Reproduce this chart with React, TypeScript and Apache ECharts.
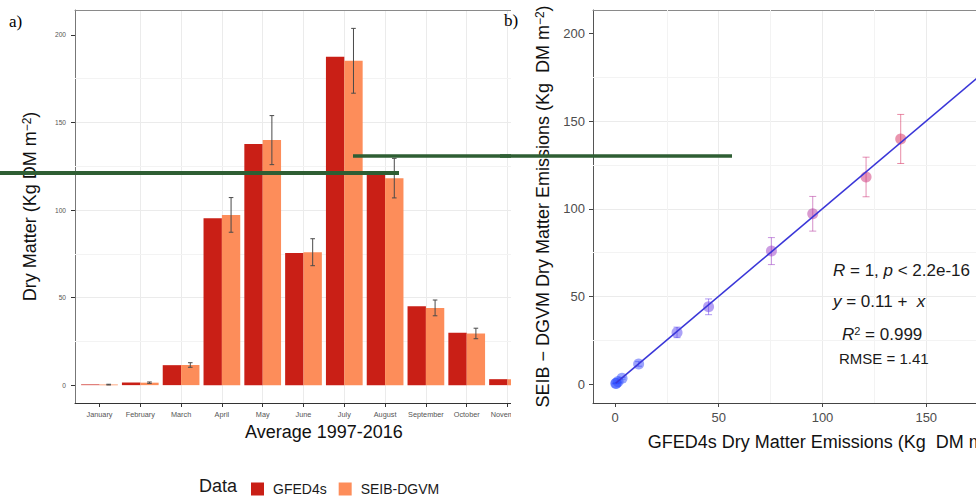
import React, { useEffect, useRef } from 'react';
import * as echarts from 'echarts';

// ---------- data ----------
const months = ['January', 'February', 'March', 'April', 'May', 'June', 'July', 'August', 'September', 'October', 'November', 'December'];
const monthIdx = [1, 2, 3, 4, 5, 6, 7, 8, 9, 10, 11, 12];
const gfed = [0.4, 1.5, 11.4, 95.3, 137.7, 75.4, 187.5, 121.0, 45.1, 29.9, 3.4, 0.6];
const seib = [0.3, 1.4, 11.5, 97.2, 139.9, 75.9, 185.2, 118.2, 44.1, 29.5, 3.3, 0.5];
const seibErr = [0.2, 0.4, 1.3, 9.9, 14.0, 7.7, 18.5, 11.3, 4.5, 3.0, 0.5, 0.2];
const yTicks = [0, 50, 100, 150, 200];
const minorTicks = [25, 75, 125, 175];
const xTicksB = [0, 50, 100, 150, 200];
const fitIntercept = 0.11;
const fitSlope = 1;

const FONT = '"Liberation Sans", Arial, Helvetica, sans-serif';
const SERIF = '"Liberation Serif", "Times New Roman", serif';
const RED = '#c91f16';
const ORANGE = '#fd8d5a';
const GREEN = '#2e5e33';
const MAJOR = '#ebebeb';
const MINOR = '#f3f3f3';

function optionA(): any {
  const errRender = (params: any, api: any) => {
    const x = api.value(0);
    const lo = api.value(1);
    const hi = api.value(2);
    const off = api.size([1, 0])[0] * 0.225;
    const pLo = api.coord([x, lo]);
    const pHi = api.coord([x, hi]);
    const cx = pLo[0] + off;
    const c = 2.3;
    const st = { stroke: '#4a4a4a', lineWidth: 1 };
    return {
      type: 'group',
      children: [
        { type: 'line', shape: { x1: cx, y1: pLo[1], x2: cx, y2: pHi[1] }, style: st },
        { type: 'line', shape: { x1: cx - c, y1: pLo[1], x2: cx + c, y2: pLo[1] }, style: st },
        { type: 'line', shape: { x1: cx - c, y1: pHi[1], x2: cx + c, y2: pHi[1] }, style: st },
      ],
    };
  };
  return {
    animation: false,
    textStyle: { fontFamily: FONT },
    grid: { left: 75, top: 10, right: 27.2, bottom: 96, show: false, outerBoundsMode: 'none' },
    legend: {
      left: 246,
      top: 477,
      itemWidth: 13,
      itemHeight: 13,
      itemGap: 12,
      icon: 'rect',
      selectedMode: false,
      data: ['GFED4s', 'SEIB-DGVM'],
      textStyle: { fontSize: 14, color: '#1a1a1a', fontFamily: FONT, padding: [0, 0, 0, 4] },
    },
    xAxis: [
      {
        type: 'value',
        position: 'bottom',
        min: 0.4,
        max: 12.6,
        minInterval: 1,
        maxInterval: 1,
        name: 'Average 1997-2016',
        nameLocation: 'middle',
        nameGap: 18,
        nameTextStyle: { fontSize: 18, color: '#111', fontFamily: FONT },
        axisLine: { show: true, onZero: false, lineStyle: { color: '#333', width: 1 } },
        axisTick: { show: true, length: 4, customValues: monthIdx, lineStyle: { color: '#333' } },
        axisLabel: {
          customValues: monthIdx,
          formatter: (v: number) => (Number.isInteger(v) && months[v - 1] ? months[v - 1] : ''),
          fontSize: 7.3,
          color: '#555',
          margin: 8,
          fontFamily: FONT,
        },
        splitLine: { show: true, showMinLine: false, lineStyle: { color: MAJOR, width: 1 } },
      },
      {
        type: 'value',
        position: 'top',
        min: 0.4,
        max: 12.6,
        axisLine: { show: true, onZero: false, lineStyle: { color: '#8a8a8a', width: 1 } },
        axisTick: { show: false },
        axisLabel: { show: false },
        splitLine: { show: false },
      },
    ],
    yAxis: {
      type: 'value',
      min: -10.2,
      max: 214.2,
      name: 'Dry Matter (Kg DM m{s|−2})',
      nameLocation: 'middle',
      nameRotate: 90,
      nameGap: 36,
      nameTextStyle: {
        fontSize: 18,
        color: '#111',
        fontFamily: FONT,
        rich: { s: { fontSize: 12, verticalAlign: 'top', fontFamily: FONT, color: '#111' } },
      },
      axisLine: { show: true, onZero: false, lineStyle: { color: '#777', width: 1 } },
      axisTick: { show: true, length: 4, customValues: yTicks, lineStyle: { color: '#333' } },
      axisLabel: {
        customValues: yTicks,
        formatter: (v: number) => (v % 50 === 0 ? String(v) : ''),
        fontSize: 6.6,
        color: '#555',
        margin: 9,
        fontFamily: FONT,
      },
      splitLine: { show: true, showMinLine: false, showMaxLine: false, lineStyle: { color: MAJOR, width: 1 } },
    },
    series: [
      {
        type: 'bar',
        name: 'GFED4s',
        data: gfed.map((v, i) => [monthIdx[i], v]),
        barWidth: '45%',
        barGap: '0%',
        itemStyle: { color: RED },
        markLine: {
          silent: true,
          z: 1,
          symbol: ['none', 'none'],
          label: { show: false },
          emphasis: { disabled: true },
          lineStyle: { color: MINOR, width: 1, type: 'solid' },
          data: minorTicks.map((v) => ({ yAxis: v })),
        },
      },
      {
        type: 'bar',
        name: 'SEIB-DGVM',
        data: seib.map((v, i) => [monthIdx[i], v]),
        barWidth: '45%',
        barGap: '0%',
        itemStyle: { color: ORANGE },
      },
      {
        type: 'custom',
        name: 'err',
        z: 4,
        renderItem: errRender,
        data: seib.map((v, i) => [monthIdx[i], v - seibErr[i], v + seibErr[i]]),
      },
    ],
    graphic: [
      { type: 'text', x: 9, y: 21, z: 100, style: { text: 'a)', fontFamily: SERIF, fontSize: 17, fill: '#000', verticalAlign: 'middle' } },
      { type: 'text', x: 199, y: 486, z: 100, style: { text: 'Data', fontFamily: FONT, fontSize: 18, fill: '#1a1a1a', verticalAlign: 'middle' } },
      { type: 'line', z: 100, shape: { x1: 0, y1: 173, x2: 399, y2: 173 }, style: { stroke: GREEN, lineWidth: 4 } },
      { type: 'line', z: 100, shape: { x1: 353, y1: 156, x2: 600, y2: 156 }, style: { stroke: GREEN, lineWidth: 3.5 } },
    ],
  };
}

function optionB(): any {
  const errRender = (params: any, api: any) => {
    const x = api.value(0);
    const lo = api.value(2);
    const hi = api.value(3);
    const pLo = api.coord([x, lo]);
    const pHi = api.coord([x, hi]);
    const c = 3.5;
    const st = { stroke: api.visual('color'), lineWidth: 1, opacity: 0.55 };
    return {
      type: 'group',
      children: [
        { type: 'line', shape: { x1: pLo[0], y1: pLo[1], x2: pLo[0], y2: pHi[1] }, style: st },
        { type: 'line', shape: { x1: pLo[0] - c, y1: pLo[1], x2: pLo[0] + c, y2: pLo[1] }, style: st },
        { type: 'line', shape: { x1: pLo[0] - c, y1: pHi[1], x2: pLo[0] + c, y2: pHi[1] }, style: st },
      ],
    };
  };
  const xMin = Math.min(...gfed);
  const xMax = Math.max(...gfed);
  const fitLine = [
    [xMin, fitIntercept + fitSlope * xMin],
    [xMax, fitIntercept + fitSlope * xMax],
  ];
  const supRich = { s: { fontSize: 12, verticalAlign: 'top', fontFamily: FONT, color: '#111' } };
  return {
    animation: false,
    textStyle: { fontFamily: FONT },
    grid: { left: 93, top: 10, width: 465, bottom: 96, show: false, outerBoundsMode: 'none' },
    visualMap: {
      show: false,
      type: 'continuous',
      min: 0,
      max: 188,
      dimension: 1,
      seriesIndex: [0, 1],
      inRange: { color: ['#2b4cff', '#8a3fe0', '#d6306a', '#d81e30'] },
    },
    xAxis: [
      {
        type: 'value',
        position: 'bottom',
        min: -10.6,
        max: 213.5,
        name: 'GFED4s Dry Matter Emissions (Kg  DM m{s|−2})',
        nameLocation: 'middle',
        nameGap: 30,
        nameTextStyle: { fontSize: 18, color: '#111', fontFamily: FONT, rich: supRich },
        axisLine: { show: true, onZero: false, lineStyle: { color: '#444', width: 1 } },
        axisTick: { show: true, length: 4, customValues: xTicksB, lineStyle: { color: '#444' } },
        axisLabel: {
          customValues: xTicksB,
          formatter: (v: number) => (v % 50 === 0 ? String(v) : ''),
          fontSize: 13,
          color: '#4d4d4d',
          margin: 8,
          fontFamily: FONT,
        },
        splitLine: { show: true, showMinLine: false, showMaxLine: false, lineStyle: { color: MAJOR, width: 1 } },
      },
      {
        type: 'value',
        position: 'top',
        min: -10.6,
        max: 213.5,
        axisLine: { show: true, onZero: false, lineStyle: { color: '#8a8a8a', width: 1 } },
        axisTick: { show: false },
        axisLabel: { show: false },
        splitLine: { show: false },
      },
    ],
    yAxis: {
      type: 'value',
      min: -10.8,
      max: 213.5,
      name: 'SEIB − DGVM Dry Matter Emissions (Kg  DM m{s|−2})',
      nameLocation: 'middle',
      nameRotate: 90,
      nameGap: 41,
      nameTextStyle: { fontSize: 18, color: '#111', fontFamily: FONT, rich: supRich },
      axisLine: { show: true, onZero: false, lineStyle: { color: '#555', width: 1 } },
      axisTick: { show: true, length: 4, customValues: yTicks, lineStyle: { color: '#444' } },
      axisLabel: {
        customValues: yTicks,
        formatter: (v: number) => (v % 50 === 0 ? String(v) : ''),
        fontSize: 13,
        color: '#4d4d4d',
        margin: 8,
        fontFamily: FONT,
      },
      splitLine: { show: true, showMinLine: false, showMaxLine: false, lineStyle: { color: MAJOR, width: 1 } },
    },
    series: [
      {
        type: 'custom',
        name: 'err',
        z: 2,
        renderItem: errRender,
        data: gfed.map((g, i) => [g, seib[i], seib[i] - seibErr[i], seib[i] + seibErr[i]]),
      },
      {
        type: 'scatter',
        name: 'points',
        z: 3,
        symbolSize: 11,
        itemStyle: { opacity: 0.5 },
        data: gfed.map((g, i) => [g, seib[i]]),
      },
      {
        type: 'line',
        name: 'fit',
        z: 4,
        showSymbol: false,
        symbol: 'none',
        lineStyle: { color: '#3a36d8', width: 1.6 },
        data: fitLine,
        markLine: {
          silent: true,
          z: 1,
          symbol: ['none', 'none'],
          label: { show: false },
          emphasis: { disabled: true },
          lineStyle: { color: MINOR, width: 1, type: 'solid' },
          data: [...minorTicks.map((v) => ({ yAxis: v })), ...minorTicks.map((v) => ({ xAxis: v }))],
        },
      },
    ],
    graphic: [
      { type: 'text', x: 4, y: 20, z: 100, style: { text: 'b)', fontFamily: SERIF, fontSize: 17, fill: '#000', verticalAlign: 'middle' } },
      {
        type: 'text', x: 333, y: 270, z: 50,
        style: { text: '{i|R} = 1, {i|p} < 2.2e-16', fontFamily: FONT, fontSize: 17, fill: '#1a1a1a', verticalAlign: 'middle', rich: { i: { fontStyle: 'italic', fontSize: 17, fontFamily: FONT, color: '#1a1a1a' } } },
      },
      {
        type: 'text', x: 333, y: 301, z: 50,
        style: { text: '{i|y} = 0.11 +  {i|x}', fontFamily: FONT, fontSize: 17, fill: '#1a1a1a', verticalAlign: 'middle', rich: { i: { fontStyle: 'italic', fontSize: 17, fontFamily: FONT, color: '#1a1a1a' } } },
      },
      {
        type: 'text', x: 342, y: 334, z: 50,
        style: { text: '{i|R}{s|2} = 0.999', fontFamily: FONT, fontSize: 17, fill: '#1a1a1a', verticalAlign: 'middle', rich: { i: { fontStyle: 'italic', fontSize: 17, fontFamily: FONT, color: '#1a1a1a' }, s: { fontSize: 11, verticalAlign: 'top', fontFamily: FONT, color: '#1a1a1a' } } },
      },
      {
        type: 'text', x: 339, y: 358, z: 50,
        style: { text: 'RMSE = 1.41', fontFamily: FONT, fontSize: 15, fill: '#1a1a1a', verticalAlign: 'middle' },
      },
      { type: 'line', z: 100, shape: { x1: 0, y1: 156, x2: 232, y2: 156 }, style: { stroke: GREEN, lineWidth: 3.5 } },
    ],
  };
}

export default function App() {
  const refA = useRef<HTMLDivElement>(null);
  const refB = useRef<HTMLDivElement>(null);

  useEffect(() => {
    document.body.style.margin = '0';
    const a = echarts.init(refA.current as HTMLDivElement, null, { renderer: 'svg' });
    const b = echarts.init(refB.current as HTMLDivElement, null, { renderer: 'svg' });
    a.setOption(optionA());
    b.setOption(optionB());
    return () => {
      a.dispose();
      b.dispose();
    };
  }, []);

  return (
    <div style={{ position: 'relative', width: 976, height: 499, overflow: 'hidden', background: '#fff' }}>
      <div style={{ position: 'absolute', left: 0, top: 0, width: 511, height: 499, overflow: 'hidden', zIndex: 1 }}>
        <div ref={refA} style={{ width: 600, height: 499 }} />
      </div>
      <div style={{ position: 'absolute', left: 511, top: 0, width: 465, height: 499, background: '#fff', zIndex: 2 }} />
      <div style={{ position: 'absolute', left: 500, top: 0, width: 476, height: 499, overflow: 'hidden', zIndex: 3 }}>
        <div ref={refB} style={{ width: 600, height: 499 }} />
      </div>
    </div>
  );
}
